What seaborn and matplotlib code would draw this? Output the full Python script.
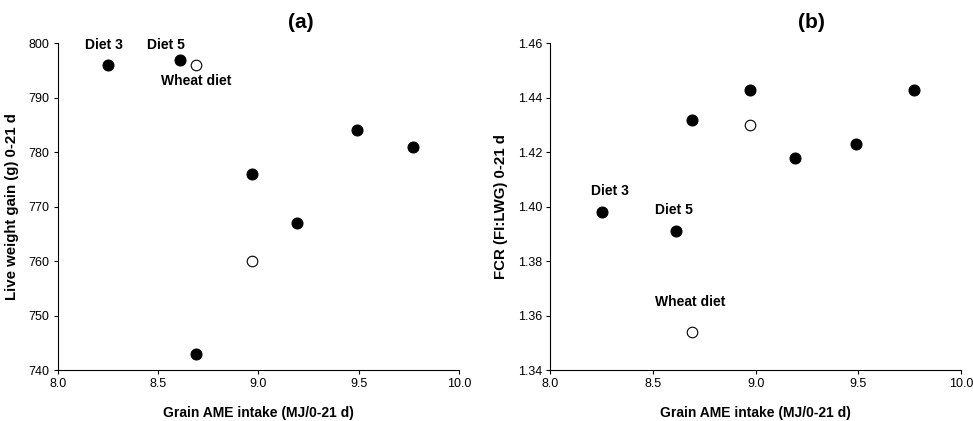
import matplotlib
matplotlib.use("Agg")
import matplotlib.pyplot as plt
import seaborn as sns
import pandas as pd

# grain AME intake (MJ/0-21 d)
ame_filled = [8.25, 8.61, 8.69, 8.97, 9.19, 9.49, 9.77]
ame_open = [8.69, 8.97]

# panel (a) live weight gain
lwg_filled = [796, 797, 743, 776, 767, 784, 781]
lwg_open = [796, 760]

# panel (b) FCR
fcr_filled = [1.398, 1.391, 1.432, 1.443, 1.418, 1.423, 1.443]
fcr_open = [1.354, 1.430]

# annotations (label, x, y)
labels_a = [("Diet 3", 8.23, 799.6), ("Diet 5", 8.54, 799.6), ("Wheat diet", 8.69, 793.0)]
labels_b = [("Diet 3", 8.29, 1.4057), ("Diet 5", 8.60, 1.3988), ("Wheat diet", 8.68, 1.3650)]

sns.set_style("ticks")
plt.rcParams['font.family'] = ['Liberation Sans', 'DejaVu Sans']
plt.rcParams['text.color'] = 'black'
plt.rcParams['axes.labelcolor'] = 'black'
plt.rcParams['xtick.color'] = 'black'
plt.rcParams['ytick.color'] = 'black'
plt.rcParams['axes.edgecolor'] = 'black'

fig = plt.figure(figsize=(9.73, 4.21), dpi=100)
ax_a = fig.add_axes([0.0596, 0.1211, 0.4121, 0.7760])
ax_b = fig.add_axes([0.5656, 0.1211, 0.4221, 0.7760])


def draw_panel(ax, yf, yo, labels, ylim, yticks, ytickfmt, ylabel, title, title_x):
    df_f = pd.DataFrame({'x': ame_filled, 'y': yf})
    df_o = pd.DataFrame({'x': ame_open, 'y': yo})
    sns.scatterplot(data=df_f, x='x', y='y', ax=ax, color='black', s=62,
                    edgecolor='black', linewidth=0.8, zorder=3)
    sns.scatterplot(data=df_o, x='x', y='y', ax=ax, color='white', s=58,
                    edgecolor='black', linewidth=0.8, zorder=3)
    for txt, x, y in labels:
        ax.text(x, y, txt, ha='center', va='center', fontsize=10, fontweight='bold')
    ax.set_xlim(8.0, 10.0)
    ax.set_ylim(*ylim)
    ax.set_xticks([8.0, 8.5, 9.0, 9.5, 10.0])
    ax.set_xticklabels(["8.0", "8.5", "9.0", "9.5", "10.0"])
    ax.set_yticks(yticks)
    ax.set_yticklabels([ytickfmt.format(v) for v in yticks])
    ax.tick_params(labelsize=9, length=3, width=0.8, direction='out', pad=3)
    ax.set_xlabel("Grain AME intake (MJ/0-21 d)", fontsize=10, fontweight='bold', labelpad=11)
    ax.set_ylabel(ylabel, fontsize=10.8, fontweight='bold', labelpad=7)
    for side in ['left', 'bottom']:
        ax.spines[side].set_linewidth(0.8)
    sns.despine(ax=ax)
    ax.text(title_x, 1.035, title, transform=ax.transAxes, ha='center', va='bottom',
            fontsize=15, fontweight='bold')


draw_panel(ax_a, lwg_filled, lwg_open, labels_a, (740, 800),
           [740, 750, 760, 770, 780, 790, 800], "{:.0f}",
           "Live weight gain (g) 0-21 d", "(a)", 0.605)
draw_panel(ax_b, fcr_filled, fcr_open, labels_b, (1.34, 1.46),
           [1.34, 1.36, 1.38, 1.40, 1.42, 1.44, 1.46], "{:.2f}",
           "FCR (FI:LWG) 0-21 d", "(b)", 0.635)

fig.savefig("out.png", dpi=100)
